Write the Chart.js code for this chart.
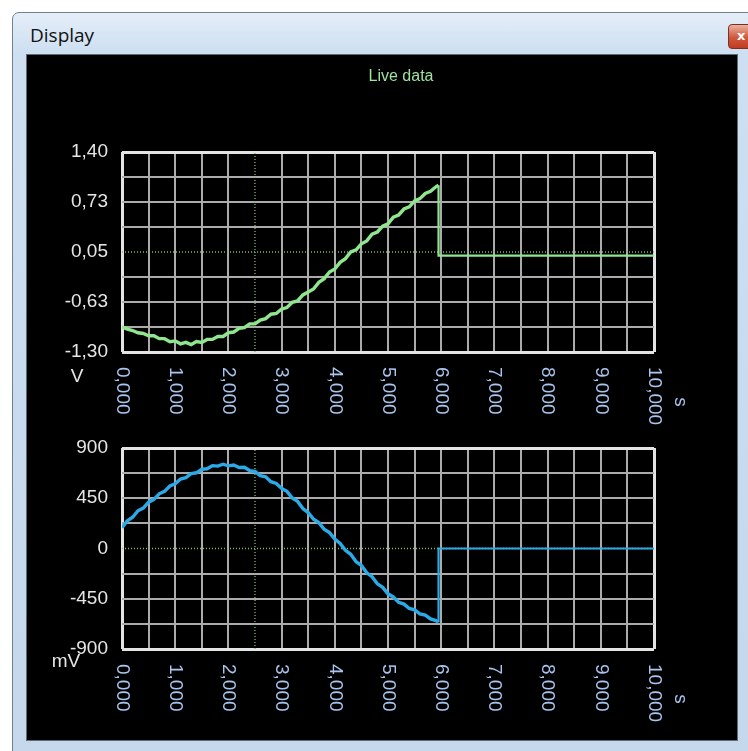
<!DOCTYPE html>
<html>
<head>
<meta charset="utf-8">
<title>Display</title>
<script src="https://cdn.jsdelivr.net/npm/chart.js@4.4.1/dist/chart.umd.min.js"></script>
<style>
  html, body { margin: 0; padding: 0; background: #fff; width: 748px; height: 751px; overflow: hidden; }
  #window {
    position: absolute; left: 12px; top: 12px; width: 770px; height: 770px;
    background: linear-gradient(to bottom, #e4eef8 0px, #cddff1 40px, #c4d7eb 100%);
    border: 1px solid #6f8193; border-radius: 7px 7px 0 0;
  }
  #caption {
    position: absolute; left: 17px; top: 9px;
    font: 19px 'Open Sans', 'Noto Sans', sans-serif; color: #111;
  }
  #close {
    position: absolute; left: 715px; top: 11px; width: 42px; height: 23px;
    background: linear-gradient(to bottom, #eab3a2, #d0573c 55%, #c03c22);
    border: 1px solid #7b3020; border-radius: 4px;
    color: #fff; font: bold 13px 'DejaVu Sans', sans-serif; line-height: 22px; text-indent: 8px;
  }
  #panel {
    position: absolute; left: 27px; top: 55px; width: 710px; height: 685px;
    background: #000; outline: 1px solid #5d6a78;
  }
  #panel canvas { position: absolute; left: 0; }
</style>
</head>
<body>
<div id="window">
  <div id="caption">Display</div>
  <div id="close">x</div>
</div>
<div id="panel">
  <canvas id="scopeMv" width="710" height="320" style="top:365px"></canvas>
  <canvas id="scopeV" width="710" height="380" style="top:0"></canvas>
</div>

<script>
// sample times in seconds (last three points: drop at stop and idle line)
const sampleTime = [
  0.0, 0.1, 0.2, 0.3, 0.4, 0.5, 0.6, 0.7, 0.8, 0.9,
  1.0, 1.1, 1.2, 1.3, 1.4, 1.5, 1.6, 1.7, 1.8, 1.9,
  2.0, 2.1, 2.2, 2.3, 2.4, 2.5, 2.6, 2.7, 2.8, 2.9,
  3.0, 3.1, 3.2, 3.3, 3.4, 3.5, 3.6, 3.7, 3.8, 3.9,
  4.0, 4.1, 4.2, 4.3, 4.4, 4.5, 4.6, 4.7, 4.8, 4.9,
  5.0, 5.1, 5.2, 5.3, 5.4, 5.5, 5.6, 5.7, 5.8, 5.9,
  5.95, 5.95, 10
];

// channel 1, volts
const chanVolt = [
  -0.96, -0.99, -1.01, -1.04, -1.05, -1.08, -1.08, -1.12, -1.12, -1.16,
  -1.15, -1.19, -1.17, -1.20, -1.16, -1.17, -1.13, -1.13, -1.09, -1.09,
  -1.04, -1.03, -0.98, -0.97, -0.92, -0.92, -0.87, -0.85, -0.79, -0.78,
  -0.72, -0.70, -0.63, -0.61, -0.53, -0.49, -0.45, -0.36, -0.31, -0.22,
  -0.18, -0.09, -0.04, 0.05, 0.08, 0.16, 0.20, 0.29, 0.32, 0.40,
  0.43, 0.52, 0.55, 0.63, 0.66, 0.74, 0.77, 0.84, 0.87, 0.93,
  0.95, 0, 0
];

// channel 2, millivolts
const chanMilli = [
  185, 248, 280, 338, 362, 415, 440, 490, 512, 560,
  580, 622, 634, 670, 678, 710, 714, 742, 738, 755,
  740, 748, 726, 727, 698, 690, 652, 642, 598, 582,
  538, 512, 452, 422, 358, 322, 262, 232, 172, 142,
  84, 46, -16, -52, -118, -152, -218, -252, -316, -348,
  -406, -434, -482, -498, -537, -550, -585, -596, -630, -646,
  -660, 0, 0
];

const xTickText = ['0,000', '1,000', '2,000', '3,000', '4,000', '5,000',
                   '6,000', '7,000', '8,000', '9,000', '10,000'];
const yTickTextVolt = ['-1,30', '-0,63', '0,05', '0,73', '1,40'];
const yTickTextMilli = ['-900', '-450', '0', '450', '900'];

const rangeVolt = [-1.30, 1.40];
const rangeMilli = [-900, 900];
const timeRange = [0, 10];
const stopTime = 5.95;
const cursorTime = 2.5;
const cursorVolt = 0.05;
const cursorMilli = 0;

const FONT = "'Liberation Sans', Arial, sans-serif";
const GRID = '#ababab';
const FRAME = '#e4e4e4';
const CURSOR = '#86b86a';

// x labels turned clockwise, unit names and the caption line
const scopeText = {
  id: 'scopeText',
  afterDraw(chart, args, o) {
    const { ctx, chartArea } = chart;
    const xs = chart.scales.x;
    ctx.save();
    ctx.font = '19px ' + FONT;
    ctx.textBaseline = 'middle';
    ctx.textAlign = 'left';
    ctx.fillStyle = '#a9c5ee';
    xTickText.forEach((txt, i) => {
      ctx.save();
      ctx.translate(xs.getPixelForValue(i), chartArea.bottom + 15);
      ctx.rotate(Math.PI / 2);
      ctx.fillText(txt, 0, 0);
      ctx.restore();
    });
    ctx.save();
    ctx.translate(chartArea.right + 26, chartArea.bottom + 50);
    ctx.rotate(Math.PI / 2);
    ctx.textAlign = 'center';
    ctx.fillText('s', 0, 0);
    ctx.restore();

    ctx.textAlign = 'center';
    ctx.fillStyle = '#e6e6e6';
    ctx.fillText(o.unit, chartArea.left + o.unitDx, chartArea.bottom + o.unitDy);

    if (o.caption) {
      ctx.font = '16px ' + FONT;
      ctx.fillStyle = '#9fe39f';
      ctx.fillText(o.caption, chartArea.left + o.captionDx, o.captionY);
    }
    ctx.restore();
  }
};

const gridSteps = (range, n) => Array.from({ length: n + 1 }, (_, i) => range[0] + i * (range[1] - range[0]) / n);

const makeScope = (id, values, color, range, cursorLevel, tickText, extra) => {
  const yGrid = gridSteps(range, 8);
  const xGrid = gridSteps(timeRange, 20);

  return new Chart(document.getElementById(id), {
    type: 'line',
    data: {
      datasets: [
        {
          data: sampleTime.map((t, i) => ({ x: t, y: values[i] })),
          borderColor: color,
          borderWidth: 3.4,
          // the idle trace after stop is thinner than the noisy record
          segment: { borderWidth: c => c.p0.parsed.x >= stopTime ? 2.2 : 3.4 },
          pointRadius: 0,
          tension: 0,
          order: 0
        },
        {
          data: [{ x: cursorTime, y: range[0] }, { x: cursorTime, y: range[1] }],
          borderColor: CURSOR, borderWidth: 1.3, borderDash: [1, 2], pointRadius: 0, order: 1
        },
        {
          data: [{ x: timeRange[0], y: cursorLevel }, { x: timeRange[1], y: cursorLevel }],
          borderColor: CURSOR, borderWidth: 1.3, borderDash: [1, 2], pointRadius: 0, order: 1
        }
      ]
    },
    options: {
      responsive: false,
      animation: false,
      devicePixelRatio: 1,
      layout: { padding: extra.padding },
      scales: {
        x: {
          type: 'linear',
          min: timeRange[0],
          max: timeRange[1],
          afterBuildTicks: s => { s.ticks = xGrid.map(v => ({ value: v })); },
          afterFit: s => { s.height = extra.xHeight; },
          ticks: { display: false, autoSkip: false },
          border: { display: false },
          grid: {
            drawTicks: false,
            color: c => (c.index === 0 || c.index === 20) ? FRAME : (c.index === 5 ? 'transparent' : GRID),
            lineWidth: c => (c.index === 0 || c.index === 20) ? 3 : 2
          }
        },
        y: {
          min: range[0],
          max: range[1],
          afterBuildTicks: s => { s.ticks = yGrid.map(v => ({ value: v })); },
          afterFit: s => { s.width = 95; },
          ticks: {
            autoSkip: false,
            padding: 14,
            color: '#e6e6e6',
            font: { family: FONT, size: 19 },
            callback: (v, i) => i % 2 === 0 ? tickText[i / 2] : ''
          },
          border: { display: false },
          grid: {
            drawTicks: false,
            color: c => (c.index === 0 || c.index === 8) ? FRAME : (c.index === 4 ? 'transparent' : GRID),
            lineWidth: c => (c.index === 0 || c.index === 8) ? 3 : 2
          }
        }
      },
      plugins: {
        legend: { display: false },
        tooltip: { enabled: false },
        scopeText: extra.text
      }
    },
    plugins: [scopeText]
  });
};

makeScope('scopeV', chanVolt, '#8fe68f', rangeVolt, cursorVolt, yTickTextVolt, {
  padding: { top: 97, right: 83, left: 0, bottom: 0 },
  xHeight: 83,
  text: { unit: 'V', unitDx: -45, unitDy: 25, caption: 'Live data', captionDx: 279, captionY: 22 }
});

makeScope('scopeMv', chanMilli, '#2aaae6', rangeMilli, cursorMilli, yTickTextMilli, {
  padding: { top: 28, right: 83, left: 0, bottom: 0 },
  xHeight: 91,
  text: { unit: 'mV', unitDx: -56, unitDy: 13 }
});
</script>
</body>
</html>
